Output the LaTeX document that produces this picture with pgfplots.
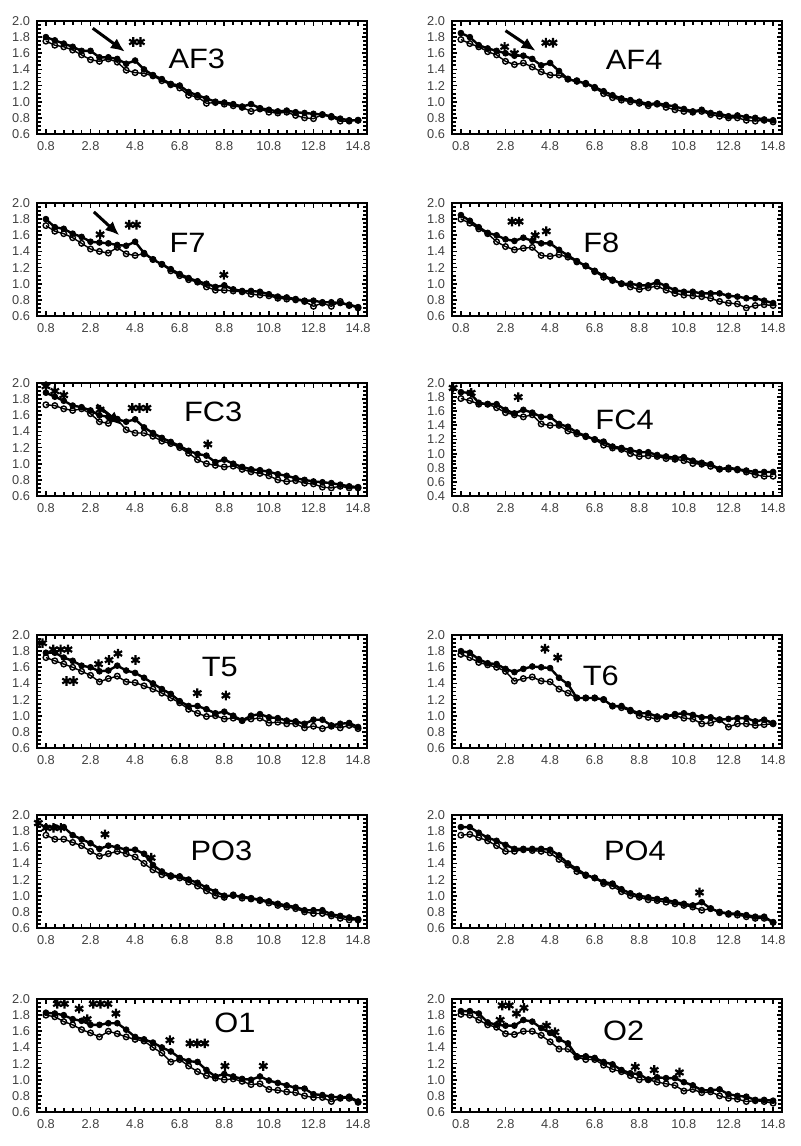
\documentclass[border=0pt]{standalone}
\usepackage{fontspec}
\setmainfont{Liberation Sans}
\usepackage{pgfplots}
\usepackage{pgfplotstable}
\pgfplotsset{compat=1.18}
\usetikzlibrary{arrows.meta}

\pgfplotsset{
 panel/.style={
  scale only axis, width=165pt, height=56.5pt,
  xmin=0.4, xmax=15.2, ymin=0.6, ymax=2.0,
  xtick={0.8,2.8,4.8,6.8,8.8,10.8,12.8,14.8},
  ytick={0.6,0.8,1.0,1.2,1.4,1.6,1.8,2.0},
  minor x tick num=4, minor y tick num=3,
  tick align=inside,
  major tick length=2.5pt, minor tick length=2pt,
  every tick/.style={black, line width=0.9pt},
  axis line style={line width=1.1pt},
  tick label style={font=\fontsize{6.4}{6.4}\selectfont, text=black!75},
  /pgf/number format/fixed, /pgf/number format/fixed zerofill,
  /pgf/number format/precision=1, /pgf/number format/assume math mode=true,
  xticklabel style={yshift=-0.3pt},
  clip=false,
 },
 seriesA/.style={black, line width=1.2pt, mark=*, mark size=1.45pt, mark options={solid, fill=black, line width=0.4pt}},
 seriesB/.style={black, line width=0.7pt, mark=o, mark size=1.4pt, mark options={solid, fill=white, line width=0.7pt}},
 stars/.style={black, only marks, mark=asterisk, mark size=2.4pt, mark options={line width=1.1pt}},
}
\newcommand{\ttl}[1]{\fontsize{14}{14}\selectfont\scalebox{1.1}[1]{#1}}
\tikzset{bigarrow/.style={-{Latex[length=7pt,width=6pt]}, line width=1.5pt}}

\pgfplotstableread{
x a b
0.8 1.80 1.75
1.2 1.76 1.70
1.6 1.72 1.68
2.0 1.68 1.64
2.4 1.63 1.58
2.8 1.63 1.52
3.2 1.55 1.50
3.6 1.55 1.53
4.0 1.53 1.49
4.4 1.47 1.39
4.8 1.51 1.36
5.2 1.40 1.35
5.6 1.33 1.32
6.0 1.28 1.26
6.4 1.22 1.21
6.8 1.20 1.17
7.2 1.12 1.08
7.6 1.08 1.06
8.0 1.04 0.98
8.4 1.00 0.99
8.8 0.99 0.97
9.2 0.97 0.95
9.6 0.94 0.93
10.0 0.97 0.88
10.4 0.92 0.91
10.8 0.90 0.87
11.2 0.88 0.86
11.6 0.89 0.87
12.0 0.87 0.83
12.4 0.86 0.80
12.8 0.85 0.79
13.2 0.84 0.84
13.6 0.82 0.81
14.0 0.79 0.76
14.4 0.77 0.76
14.8 0.77 0.77
}\tAFthree

\pgfplotstableread{
x a b
0.8 1.85 1.77
1.2 1.80 1.72
1.6 1.70 1.68
2.0 1.66 1.62
2.4 1.63 1.58
2.8 1.60 1.50
3.2 1.57 1.46
3.6 1.57 1.48
4.0 1.53 1.43
4.4 1.45 1.37
4.8 1.48 1.33
5.2 1.38 1.33
5.6 1.28 1.28
6.0 1.25 1.26
6.4 1.23 1.22
6.8 1.18 1.17
7.2 1.13 1.10
7.6 1.08 1.05
8.0 1.04 1.02
8.4 1.02 1.00
8.8 1.00 0.98
9.2 0.97 0.95
9.6 0.98 0.97
10.0 0.96 0.93
10.4 0.94 0.90
10.8 0.91 0.88
11.2 0.88 0.87
11.6 0.90 0.88
12.0 0.86 0.84
12.4 0.85 0.82
12.8 0.82 0.80
13.2 0.83 0.80
13.6 0.81 0.77
14.0 0.80 0.76
14.4 0.78 0.77
14.8 0.77 0.75
}\tAFfour

\pgfplotstableread{
x a b
0.8 1.80 1.72
1.2 1.70 1.65
1.6 1.68 1.62
2.0 1.62 1.57
2.4 1.58 1.50
2.8 1.52 1.43
3.2 1.51 1.40
3.6 1.50 1.38
4.0 1.48 1.45
4.4 1.47 1.37
4.8 1.52 1.35
5.2 1.38 1.37
5.6 1.30 1.30
6.0 1.24 1.24
6.4 1.18 1.16
6.8 1.12 1.10
7.2 1.07 1.05
7.6 1.03 1.02
8.0 1.00 0.96
8.4 0.96 0.92
8.8 0.98 0.92
9.2 0.93 0.91
9.6 0.91 0.90
10.0 0.91 0.87
10.4 0.90 0.86
10.8 0.87 0.85
11.2 0.84 0.82
11.6 0.83 0.81
12.0 0.81 0.80
12.4 0.79 0.78
12.8 0.79 0.72
13.2 0.77 0.76
13.6 0.77 0.72
14.0 0.76 0.78
14.4 0.74 0.73
14.8 0.71 0.70
}\tFseven

\pgfplotstableread{
x a b
0.8 1.85 1.80
1.2 1.78 1.75
1.6 1.70 1.68
2.0 1.63 1.62
2.4 1.60 1.52
2.8 1.55 1.46
3.2 1.53 1.42
3.6 1.57 1.44
4.0 1.53 1.45
4.4 1.50 1.35
4.8 1.50 1.34
5.2 1.42 1.36
5.6 1.35 1.33
6.0 1.28 1.27
6.4 1.22 1.22
6.8 1.16 1.15
7.2 1.10 1.08
7.6 1.05 1.04
8.0 1.00 1.00
8.4 1.00 0.96
8.8 0.98 0.93
9.2 0.98 0.95
9.6 1.02 0.97
10.0 0.97 0.92
10.4 0.92 0.88
10.8 0.90 0.86
11.2 0.90 0.85
11.6 0.88 0.84
12.0 0.88 0.82
12.4 0.88 0.78
12.8 0.85 0.76
13.2 0.84 0.75
13.6 0.82 0.70
14.0 0.82 0.73
14.4 0.79 0.74
14.8 0.76 0.73
}\tFeight

\pgfplotstableread{
x a b
0.8 1.88 1.73
1.2 1.83 1.72
1.6 1.78 1.68
2.0 1.72 1.66
2.4 1.70 1.68
2.8 1.66 1.62
3.2 1.60 1.52
3.6 1.58 1.50
4.0 1.55 1.55
4.4 1.52 1.42
4.8 1.55 1.38
5.2 1.45 1.38
5.6 1.38 1.34
6.0 1.32 1.28
6.4 1.27 1.25
6.8 1.22 1.20
7.2 1.16 1.13
7.6 1.12 1.05
8.0 1.10 1.00
8.4 1.02 0.98
8.8 1.05 0.96
9.2 1.00 0.97
9.6 0.96 0.93
10.0 0.93 0.90
10.4 0.92 0.88
10.8 0.90 0.85
11.2 0.87 0.80
11.6 0.85 0.78
12.0 0.82 0.79
12.4 0.80 0.76
12.8 0.78 0.75
13.2 0.77 0.71
13.6 0.76 0.70
14.0 0.74 0.72
14.4 0.72 0.70
14.8 0.71 0.70
}\tFCthree

\pgfplotstableread{
x a b
0.8 1.87 1.78
1.2 1.86 1.75
1.6 1.72 1.70
2.0 1.70 1.70
2.4 1.70 1.65
2.8 1.62 1.58
3.2 1.57 1.55
3.6 1.62 1.52
4.0 1.58 1.55
4.4 1.52 1.42
4.8 1.52 1.40
5.2 1.42 1.40
5.6 1.38 1.32
6.0 1.30 1.28
6.4 1.25 1.24
6.8 1.20 1.20
7.2 1.17 1.12
7.6 1.10 1.08
8.0 1.08 1.06
8.4 1.05 1.00
8.8 1.02 0.96
9.2 1.02 0.97
9.6 0.98 0.96
10.0 0.96 0.93
10.4 0.94 0.92
10.8 0.95 0.90
11.2 0.90 0.86
11.6 0.87 0.85
12.0 0.85 0.82
12.4 0.78 0.78
12.8 0.80 0.78
13.2 0.78 0.77
13.6 0.76 0.74
14.0 0.74 0.70
14.4 0.74 0.68
14.8 0.74 0.68
}\tFCfour

\pgfplotstableread{
x a b
0.8 1.78 1.72
1.2 1.78 1.68
1.6 1.72 1.64
2.0 1.68 1.60
2.4 1.62 1.55
2.8 1.60 1.50
3.2 1.55 1.42
3.6 1.56 1.46
4.0 1.62 1.49
4.4 1.56 1.42
4.8 1.53 1.41
5.2 1.47 1.37
5.6 1.40 1.33
6.0 1.33 1.28
6.4 1.27 1.22
6.8 1.18 1.16
7.2 1.12 1.08
7.6 1.12 1.03
8.0 1.08 0.99
8.4 1.03 1.00
8.8 1.05 0.96
9.2 1.00 0.97
9.6 0.94 0.94
10.0 1.00 0.96
10.4 1.02 0.97
10.8 0.98 0.91
11.2 0.97 0.92
11.6 0.94 0.90
12.0 0.93 0.90
12.4 0.90 0.85
12.8 0.95 0.87
13.2 0.95 0.84
13.6 0.88 0.87
14.0 0.90 0.85
14.4 0.91 0.88
14.8 0.86 0.84
}\tTfive

\pgfplotstableread{
x a b
0.8 1.80 1.76
1.2 1.78 1.72
1.6 1.70 1.66
2.0 1.65 1.63
2.4 1.64 1.60
2.8 1.58 1.55
3.2 1.54 1.43
3.6 1.58 1.46
4.0 1.61 1.48
4.4 1.60 1.43
4.8 1.59 1.42
5.2 1.47 1.33
5.6 1.39 1.28
6.0 1.22 1.22
6.4 1.22 1.22
6.8 1.22 1.22
7.2 1.20 1.20
7.6 1.12 1.12
8.0 1.12 1.10
8.4 1.07 1.06
8.8 1.03 1.00
9.2 1.03 0.98
9.6 0.99 0.96
10.0 0.99 0.99
10.4 1.02 1.00
10.8 1.03 0.97
11.2 1.01 0.96
11.6 0.98 0.90
12.0 0.98 0.91
12.4 0.95 0.95
12.8 0.96 0.86
13.2 0.97 0.90
13.6 0.97 0.90
14.0 0.93 0.88
14.4 0.95 0.89
14.8 0.91 0.90
}\tTsix

\pgfplotstableread{
x a b
0.8 1.85 1.75
1.2 1.85 1.70
1.6 1.85 1.70
2.0 1.75 1.66
2.4 1.70 1.62
2.8 1.65 1.55
3.2 1.58 1.49
3.6 1.62 1.52
4.0 1.60 1.55
4.4 1.57 1.52
4.8 1.57 1.48
5.2 1.52 1.40
5.6 1.38 1.32
6.0 1.30 1.26
6.4 1.25 1.24
6.8 1.24 1.22
7.2 1.20 1.17
7.6 1.16 1.12
8.0 1.10 1.06
8.4 1.05 1.00
8.8 1.00 0.98
9.2 1.00 1.01
9.6 0.99 0.97
10.0 0.97 0.96
10.4 0.95 0.94
10.8 0.93 0.91
11.2 0.90 0.88
11.6 0.88 0.86
12.0 0.86 0.84
12.4 0.82 0.80
12.8 0.82 0.78
13.2 0.82 0.78
13.6 0.77 0.75
14.0 0.75 0.72
14.4 0.73 0.70
14.8 0.71 0.70
}\tPOthree

\pgfplotstableread{
x a b
0.8 1.85 1.75
1.2 1.85 1.76
1.6 1.78 1.72
2.0 1.72 1.68
2.4 1.68 1.62
2.8 1.63 1.55
3.2 1.58 1.55
3.6 1.58 1.57
4.0 1.58 1.56
4.4 1.58 1.55
4.8 1.57 1.53
5.2 1.50 1.45
5.6 1.40 1.38
6.0 1.33 1.30
6.4 1.26 1.25
6.8 1.22 1.22
7.2 1.17 1.15
7.6 1.15 1.12
8.0 1.08 1.05
8.4 1.03 1.00
8.8 1.00 0.98
9.2 0.98 0.95
9.6 0.96 0.94
10.0 0.95 0.92
10.4 0.92 0.90
10.8 0.90 0.88
11.2 0.88 0.86
11.6 0.92 0.82
12.0 0.84 0.84
12.4 0.80 0.79
12.8 0.78 0.77
13.2 0.78 0.76
13.6 0.76 0.74
14.0 0.74 0.72
14.4 0.74 0.72
14.8 0.67 0.67
}\tPOfour

\pgfplotstableread{
x a b
0.8 1.83 1.80
1.2 1.82 1.78
1.6 1.80 1.72
2.0 1.75 1.68
2.4 1.73 1.62
2.8 1.68 1.58
3.2 1.68 1.53
3.6 1.70 1.60
4.0 1.70 1.57
4.4 1.62 1.53
4.8 1.53 1.50
5.2 1.50 1.48
5.6 1.46 1.40
6.0 1.40 1.33
6.4 1.35 1.22
6.8 1.27 1.25
7.2 1.23 1.17
7.6 1.22 1.10
8.0 1.12 1.05
8.4 1.04 1.02
8.8 1.07 1.00
9.2 1.04 1.01
9.6 1.01 0.98
10.0 1.00 0.94
10.4 1.04 0.95
10.8 0.99 0.88
11.2 0.96 0.87
11.6 0.93 0.85
12.0 0.90 0.84
12.4 0.89 0.80
12.8 0.82 0.78
13.2 0.81 0.78
13.6 0.79 0.73
14.0 0.78 0.77
14.4 0.79 0.77
14.8 0.73 0.72
}\tOone

\pgfplotstableread{
x a b
0.8 1.85 1.81
1.2 1.85 1.80
1.6 1.82 1.74
2.0 1.71 1.68
2.4 1.68 1.65
2.8 1.67 1.57
3.2 1.67 1.56
3.6 1.74 1.60
4.0 1.72 1.60
4.4 1.64 1.55
4.8 1.58 1.47
5.2 1.50 1.38
5.6 1.45 1.38
6.0 1.29 1.28
6.4 1.29 1.25
6.8 1.27 1.25
7.2 1.22 1.18
7.6 1.19 1.13
8.0 1.12 1.10
8.4 1.08 1.05
8.8 1.07 1.00
9.2 1.00 1.00
9.6 1.03 0.97
10.0 1.02 0.95
10.4 1.02 0.93
10.8 0.97 0.86
11.2 0.93 0.88
11.6 0.87 0.84
12.0 0.87 0.85
12.4 0.88 0.80
12.8 0.82 0.77
13.2 0.80 0.76
13.6 0.79 0.73
14.0 0.75 0.74
14.4 0.75 0.73
14.8 0.74 0.71
}\tOtwo

\begin{document}
\begin{tikzpicture}
\path[use as bounding box] (0,0) rectangle (400pt,573pt);

% ---------- Row 1 ----------
\begin{axis}[panel, at={(18.5pt,506pt)}, anchor=south west]
\addplot[seriesB] table[x=x,y=b] {\tAFthree};
\addplot[seriesA] table[x=x,y=a] {\tAFthree};
\addplot[stars] coordinates {(4.72,1.74) (5.04,1.74)};
\draw[bigarrow] (axis cs:2.9,1.91) -- (axis cs:4.34,1.62);
\node at (axis cs:7.57,1.53) {\ttl{AF3}};
\end{axis}

\begin{axis}[panel, at={(226pt,506pt)}, anchor=south west]
\addplot[seriesB] table[x=x,y=b] {\tAFfour};
\addplot[seriesA] table[x=x,y=a] {\tAFfour};
\addplot[stars] coordinates {(2.76,1.68) (3.2,1.60) (4.61,1.73) (4.93,1.73)};
\draw[bigarrow] (axis cs:2.8,1.88) -- (axis cs:4.15,1.63);
\node at (axis cs:8.57,1.52) {\ttl{AF4}};
\end{axis}

% ---------- Row 2 ----------
\begin{axis}[panel, at={(18.5pt,415pt)}, anchor=south west]
\addplot[seriesB] table[x=x,y=b] {\tFseven};
\addplot[seriesA] table[x=x,y=a] {\tFseven};
\addplot[stars] coordinates {(3.23,1.61) (4.54,1.73) (4.86,1.73) (8.78,1.11)};
\draw[bigarrow] (axis cs:2.95,1.89) -- (axis cs:4.09,1.60);
\node at (axis cs:7.15,1.51) {\ttl{F7}};
\end{axis}

\begin{axis}[panel, at={(226pt,415pt)}, anchor=south west]
\addplot[seriesB] table[x=x,y=b] {\tFeight};
\addplot[seriesA] table[x=x,y=a] {\tFeight};
\addplot[stars] coordinates {(3.09,1.77) (3.41,1.77) (4.13,1.60) (4.63,1.65)};
\node at (axis cs:7.1,1.51) {\ttl{F8}};
\end{axis}

% ---------- Row 3 ----------
\begin{axis}[panel, at={(18.5pt,325pt)}, anchor=south west]
\addplot[seriesB] table[x=x,y=b] {\tFCthree};
\addplot[seriesA] table[x=x,y=a] {\tFCthree};
\addplot[stars] coordinates {(0.8,1.96) (1.2,1.90) (1.6,1.85) (3.23,1.67) (4.67,1.69) (5.0,1.69) (5.33,1.69) (8.06,1.24)};
\draw[bigarrow] (axis cs:3.07,1.73) -- (axis cs:4.2,1.48);
\node at (axis cs:8.3,1.64) {\ttl{FC3}};
\end{axis}

\begin{axis}[panel, at={(226pt,325pt)}, anchor=south west, ymin=0.4, ytick={0.4,0.6,0.8,1.0,1.2,1.4,1.6,1.8,2.0}]
\addplot[seriesB] table[x=x,y=b] {\tFCfour};
\addplot[seriesA] table[x=x,y=a] {\tFCfour};
\addplot[stars] coordinates {(0.45,1.93) (1.26,1.86) (3.37,1.80)};
\node at (axis cs:8.14,1.48) {\ttl{FC4}};
\end{axis}

% ---------- Row 4 ----------
\begin{axis}[panel, at={(18.5pt,199pt)}, anchor=south west]
\addplot[seriesB] table[x=x,y=b] {\tTfive};
\addplot[seriesA] table[x=x,y=a] {\tTfive};
\addplot[stars] coordinates {(0.65,1.90) (1.13,1.82) (1.46,1.82) (1.79,1.82) (1.72,1.43) (2.04,1.43) (3.16,1.64) (3.63,1.69) (4.03,1.77) (4.82,1.69) (7.59,1.28) (8.87,1.25)};
\node at (axis cs:8.6,1.60) {\ttl{T5}};
\end{axis}

\begin{axis}[panel, at={(226pt,199pt)}, anchor=south west]
\addplot[seriesB] table[x=x,y=b] {\tTsix};
\addplot[seriesA] table[x=x,y=a] {\tTsix};
\addplot[stars] coordinates {(4.57,1.83) (5.14,1.72)};
\node at (axis cs:7.07,1.49) {\ttl{T6}};
\end{axis}

% ---------- Row 5 ----------
\begin{axis}[panel, at={(18.5pt,109pt)}, anchor=south west]
\addplot[seriesB] table[x=x,y=b] {\tPOthree};
\addplot[seriesA] table[x=x,y=a] {\tPOthree};
\addplot[stars] coordinates {(0.46,1.90) (0.81,1.84) (1.14,1.84) (1.47,1.84) (3.45,1.76) (5.52,1.47)};
\node at (axis cs:8.67,1.55) {\ttl{PO3}};
\end{axis}

\begin{axis}[panel, at={(226pt,109pt)}, anchor=south west]
\addplot[seriesB] table[x=x,y=b] {\tPOfour};
\addplot[seriesA] table[x=x,y=a] {\tPOfour};
\addplot[stars] coordinates {(11.5,1.04)};
\node at (axis cs:8.6,1.55) {\ttl{PO4}};
\end{axis}

% ---------- Row 6 ----------
\begin{axis}[panel, at={(18.5pt,17pt)}, anchor=south west]
\addplot[seriesB] table[x=x,y=b] {\tOone};
\addplot[seriesA] table[x=x,y=a] {\tOone};
\addplot[stars] coordinates {(1.31,1.94) (1.63,1.94) (2.29,1.88) (2.65,1.75) (2.92,1.94) (3.25,1.94) (3.58,1.94) (3.94,1.82) (6.36,1.49) (7.26,1.45) (7.59,1.45) (7.92,1.45) (8.83,1.17) (10.55,1.17)};
\node at (axis cs:9.28,1.70) {\ttl{O1}};
\end{axis}

\begin{axis}[panel, at={(226pt,17pt)}, anchor=south west]
\addplot[seriesB] table[x=x,y=b] {\tOtwo};
\addplot[seriesA] table[x=x,y=a] {\tOtwo};
\addplot[stars] coordinates {(2.56,1.74) (2.65,1.92) (2.97,1.92) (3.29,1.82) (3.63,1.89) (4.64,1.67) (5.02,1.59) (8.62,1.16) (9.47,1.12) (10.6,1.09)};
\node at (axis cs:8.1,1.60) {\ttl{O2}};
\end{axis}

\end{tikzpicture}
\end{document}
